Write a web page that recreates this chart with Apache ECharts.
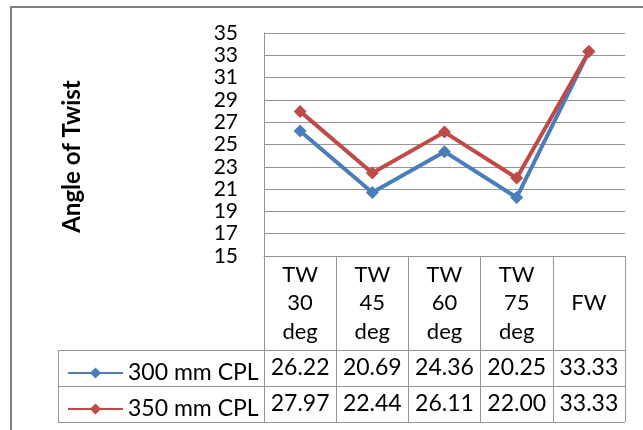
<!DOCTYPE html>
<html>
<head>
<meta charset="utf-8">
<script src="https://cdn.jsdelivr.net/npm/echarts@6/dist/echarts.min.js"></script>
<style>
html,body{margin:0;padding:0;background:#fff;}
#c{width:643px;height:430px;}
</style>
</head>
<body>
<div id="c"></div>
<script>
var categories = ['TW 30 deg', 'TW 45 deg', 'TW 60 deg', 'TW 75 deg', 'FW'];
var seriesNames = ['300 mm CPL', '350 mm CPL'];
var cpl300 = [26.22, 20.69, 24.36, 20.25, 33.33];
var cpl350 = [27.97, 22.44, 26.11, 22.00, 33.33];
var yTicks = { min: 15, max: 35, interval: 2 };

var gridColor = '#959595';
var chart = echarts.init(document.getElementById('c'));
chart.setOption({
  animation: false,
  textStyle: { fontFamily: 'Lato', color: '#000' },
  grid: { left: 264, right: 18, top: 33, bottom: 174 },
  legend: {
    orient: 'vertical', left: 62, top: 356, itemWidth: 55, itemHeight: 14, itemGap: 12,
    textStyle: { fontSize: 23, lineHeight: 24, color: '#000', fontFamily: 'Lato' },
    data: seriesNames
  },
  xAxis: [
    {
      type: 'category', data: categories, boundaryGap: true,
      axisLine: { lineStyle: { color: gridColor, width: 1 } },
      axisTick: { show: true, length: 166, interval: 0, lineStyle: { color: gridColor } },
      axisLabel: {
        interval: 0, hideOverlap: false,
        formatter: function (v) { return v.split(' ').join('\n'); },
        fontSize: 22, lineHeight: 28.5, margin: 47, verticalAlign: 'middle', color: '#000', fontFamily: 'Lato'
      }
    },
    {
      type: 'category', data: categories, position: 'bottom', offset: 94,
      axisLine: { show: false }, axisTick: { show: false },
      axisLabel: {
        interval: 0, hideOverlap: false,
        formatter: function (v, i) { return cpl300[i].toFixed(2); },
        fontSize: 23, margin: 18, verticalAlign: 'middle', color: '#000', fontFamily: 'Lato'
      }
    },
    {
      type: 'category', data: categories, position: 'bottom', offset: 131,
      axisLine: { show: false }, axisTick: { show: false },
      axisLabel: {
        interval: 0, hideOverlap: false,
        formatter: function (v, i) { return cpl350[i].toFixed(2); },
        fontSize: 23, margin: 17, verticalAlign: 'middle', color: '#000', fontFamily: 'Lato'
      }
    }
  ],
  yAxis: {
    type: 'value', min: yTicks.min, max: yTicks.max, interval: yTicks.interval,
    name: 'Angle of Twist', nameLocation: 'middle', nameGap: 180,
    nameTextStyle: { fontSize: 24, fontWeight: 'bold', color: '#000', fontFamily: 'Lato', padding: [0, 24, 0, 0] },
    axisLine: { show: true, lineStyle: { color: gridColor } },
    axisTick: { show: false },
    axisLabel: { fontSize: 21, margin: 26, color: '#000', fontFamily: 'Lato' },
    splitLine: { lineStyle: { color: gridColor } }
  },
  graphic: [
    { type: 'rect', shape: { x: 11, y: 7, width: 700, height: 500 }, style: { fill: 'none', stroke: '#7f7f7f', lineWidth: 2 }, silent: true },
    { type: 'line', shape: { x1: 58, y1: 350.5, x2: 625, y2: 350.5 }, style: { stroke: gridColor, lineWidth: 1 } },
    { type: 'line', shape: { x1: 58, y1: 386.5, x2: 625, y2: 386.5 }, style: { stroke: gridColor, lineWidth: 1 } },
    { type: 'line', shape: { x1: 58, y1: 422.5, x2: 625, y2: 422.5 }, style: { stroke: gridColor, lineWidth: 1 } },
    { type: 'line', shape: { x1: 58.5, y1: 350, x2: 58.5, y2: 423 }, style: { stroke: gridColor, lineWidth: 1 } }
  ],
  series: [
    {
      name: seriesNames[0], type: 'line', data: cpl300, symbol: 'diamond', symbolSize: 13,
      lineStyle: { width: 4, color: '#4A7EBB' }, itemStyle: { color: '#4A7EBB' }
    },
    {
      name: seriesNames[1], type: 'line', data: cpl350, symbol: 'diamond', symbolSize: 13,
      lineStyle: { width: 4, color: '#BE4B48' }, itemStyle: { color: '#BE4B48' }
    }
  ]
});
</script>
</body>
</html>
